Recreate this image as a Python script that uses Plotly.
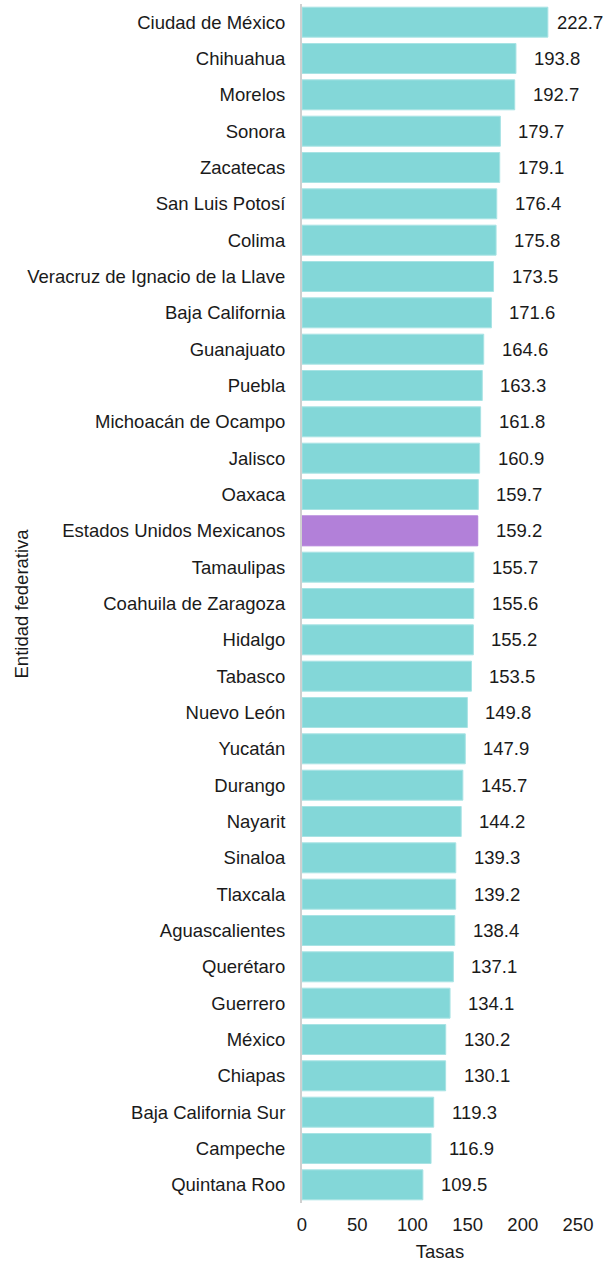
import plotly.graph_objects as go

entidades = [
    "Ciudad de México", "Chihuahua", "Morelos", "Sonora", "Zacatecas",
    "San Luis Potosí", "Colima", "Veracruz de Ignacio de la Llave",
    "Baja California", "Guanajuato", "Puebla", "Michoacán de Ocampo",
    "Jalisco", "Oaxaca", "Estados Unidos Mexicanos", "Tamaulipas",
    "Coahuila de Zaragoza", "Hidalgo", "Tabasco", "Nuevo León", "Yucatán",
    "Durango", "Nayarit", "Sinaloa", "Tlaxcala", "Aguascalientes",
    "Querétaro", "Guerrero", "México", "Chiapas", "Baja California Sur",
    "Campeche", "Quintana Roo",
]
tasas = [
    222.7, 193.8, 192.7, 179.7, 179.1, 176.4, 175.8, 173.5, 171.6, 164.6,
    163.3, 161.8, 160.9, 159.7, 159.2, 155.7, 155.6, 155.2, 153.5, 149.8,
    147.9, 145.7, 144.2, 139.3, 139.2, 138.4, 137.1, 134.1, 130.2, 130.1,
    119.3, 116.9, 109.5,
]
nacional = "Estados Unidos Mexicanos"

TEAL = "#83D7D8"
PURPLE = "#B280D9"
colors = [PURPLE if e == nacional else TEAL for e in entidades]
line_colors = ["#B280D9" if e == nacional else "#A8E3E4" for e in entidades]

FONT = "Liberation Sans, Arial, sans-serif"
FS = 18.5
TXT = "#1a1a1a"

fig = go.Figure(
    go.Bar(
        x=tasas,
        y=entidades,
        orientation="h",
        marker=dict(color=colors, line=dict(color=line_colors, width=1)),
        hoverinfo="x+y",
    )
)

vmax = max(tasas)
for e, v in zip(entidades, tasas):
    fig.add_annotation(
        x=v, y=e, xref="x", yref="y",
        text=f"{v:.1f}", showarrow=False,
        xanchor="left", yanchor="middle",
        xshift=7 if v == vmax else 16,
        font=dict(family=FONT, size=FS, color=TXT),
    )

# y-axis title as a rotated annotation
fig.add_annotation(
    x=0, y=0.5, xref="paper", yref="paper",
    text="Entidad federativa", showarrow=False, textangle=-90,
    xanchor="center", yanchor="middle", xshift=-281,
    font=dict(family=FONT, size=FS, color=TXT),
)

fig.update_layout(
    width=609, height=1263,
    margin=dict(l=302, r=31, t=4, b=60),
    paper_bgcolor="white", plot_bgcolor="white",
    bargap=0.175,
    showlegend=False,
    font=dict(family=FONT, size=FS, color=TXT),
)
fig.update_xaxes(
    range=[0, 250], tickvals=[0, 50, 100, 150, 200, 250],
    showgrid=False, zeroline=False, showline=False,
    ticks="", ticklabelstandoff=8, tickfont=dict(size=FS),
    title=dict(text="Tasas", font=dict(size=FS), standoff=11),
    automargin=False,
)
fig.update_yaxes(
    categoryorder="array", categoryarray=entidades[::-1],
    showgrid=False, zeroline=False,
    showline=True, linecolor="#D0D0D0", linewidth=2,
    ticks="", ticklabelstandoff=11, tickfont=dict(size=FS),
    automargin=False,
)

fig.write_html(
    "out.html",
    config={"displayModeBar": False},
    post_script="document.body.style.margin='0';document.body.style.padding='0';",
)
